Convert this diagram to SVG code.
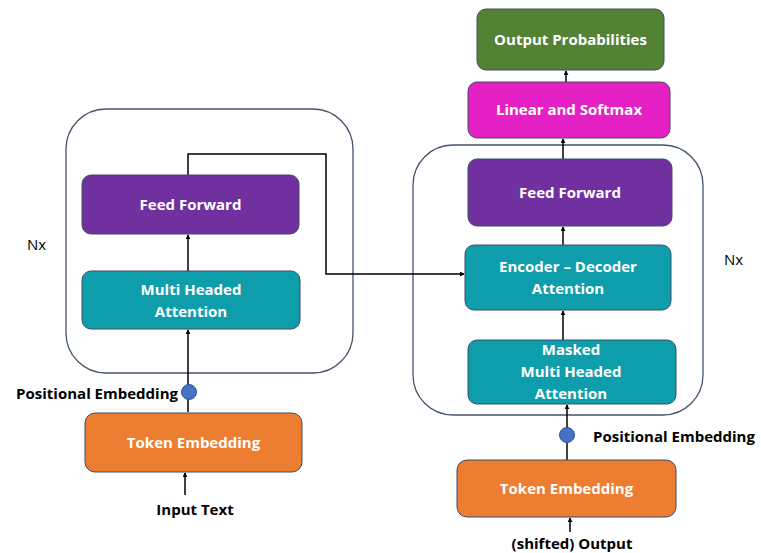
<svg xmlns="http://www.w3.org/2000/svg" width="761" height="553" viewBox="0 0 761 553">
  <defs>
    <marker id="arrow" viewBox="0 0 6 6" refX="5" refY="3" markerWidth="5" markerHeight="5" orient="auto" markerUnits="userSpaceOnUse">
      <path d="M0,0 L6,3 L0,6 Z" fill="#000"/>
    </marker>
    <style>
      .frame { fill: none; stroke: #44546a; stroke-width: 1.3; }
      .box { stroke: #3b4f68; stroke-width: 1; }
      .ff { fill: #7030a0; }
      .att { fill: #0e9eab; }
      .emb { fill: #ed7d31; }
      .lin { fill: #e520c4; }
      .out { fill: #548235; }
      .pe { fill: #4472c4; stroke: #2f528f; stroke-width: 1; }
      .in { font-family: "Open Sans", "Liberation Sans", sans-serif; font-weight: 700; font-size: 15px; fill: #fff; text-anchor: middle; }
      .lbl { font-family: "Open Sans", "Liberation Sans", sans-serif; font-weight: 700; font-size: 15px; fill: #000; }
      .nx { font-family: "Open Sans", "Liberation Sans", sans-serif; font-size: 15px; fill: #000; }
      .wire { fill: none; stroke: #000; stroke-width: 1.5; }
    </style>
  </defs>
  <rect width="761" height="553" fill="#fff"/>

  <!-- encoder / decoder stack frames -->
  <rect id="encoder-stack" class="frame" x="66" y="109" width="287" height="264" rx="40"/>
  <rect id="decoder-stack" class="frame" x="413" y="145" width="290" height="270" rx="40"/>
  <text class="nx" x="27" y="250">Nx</text>
  <text class="nx" x="724" y="265">Nx</text>

  <!-- connectors -->
  <g id="connectors">
    <line class="wire" x1="185" y1="495" x2="185" y2="473" marker-end="url(#arrow)"/>
    <line class="wire" x1="188" y1="412" x2="188" y2="330" marker-end="url(#arrow)"/>
    <line class="wire" x1="188" y1="271" x2="188" y2="235" marker-end="url(#arrow)"/>
    <polyline class="wire" points="188,175 188,154 326,154 326,274 464,274" marker-end="url(#arrow)"/>
    <line class="wire" x1="570" y1="532" x2="570" y2="518" marker-end="url(#arrow)"/>
    <line class="wire" x1="567" y1="460" x2="567" y2="405" marker-end="url(#arrow)"/>
    <line class="wire" x1="563" y1="340" x2="563" y2="311" marker-end="url(#arrow)"/>
    <line class="wire" x1="563" y1="245" x2="563" y2="227" marker-end="url(#arrow)"/>
    <line class="wire" x1="563" y1="159" x2="563" y2="139" marker-end="url(#arrow)"/>
    <line class="wire" x1="566" y1="82" x2="566" y2="71" marker-end="url(#arrow)"/>
  </g>

  <!-- encoder side -->
  <g id="enc-feed-forward">
    <rect class="box ff" x="82" y="175" width="217" height="59" rx="9"/>
    <text class="in" x="190.5" y="210">Feed Forward</text>
  </g>
  <g id="enc-attention">
    <rect class="box att" x="82" y="271" width="218" height="58" rx="9"/>
    <text class="in" x="191" y="295">Multi Headed</text>
    <text class="in" x="191" y="317">Attention</text>
  </g>
  <g id="enc-positional">
    <circle class="pe" cx="189" cy="392" r="7.5"/>
    <text class="lbl" x="178" y="399" text-anchor="end">Positional Embedding</text>
  </g>
  <g id="enc-token-embedding">
    <rect class="box emb" x="85" y="413" width="217" height="59" rx="10"/>
    <text class="in" x="193.5" y="448">Token Embedding</text>
  </g>
  <g id="enc-input">
    <text class="lbl" x="195" y="515" text-anchor="middle">Input Text</text>
  </g>

  <!-- decoder side -->
  <g id="output-probabilities">
    <rect class="box out" x="477" y="9" width="187" height="61" rx="9"/>
    <text class="in" x="570.5" y="45">Output Probabilities</text>
  </g>
  <g id="linear-softmax">
    <rect class="box lin" x="468" y="82" width="202" height="56" rx="9"/>
    <text class="in" x="569" y="115">Linear and Softmax</text>
  </g>
  <g id="dec-feed-forward">
    <rect class="box ff" x="468" y="159" width="204" height="67" rx="9"/>
    <text class="in" x="570" y="198">Feed Forward</text>
  </g>
  <g id="dec-cross-attention">
    <rect class="box att" x="465" y="245" width="206" height="65" rx="9"/>
    <text class="in" x="568" y="272">Encoder – Decoder</text>
    <text class="in" x="568" y="294">Attention</text>
  </g>
  <g id="dec-masked-attention">
    <rect class="box att" x="468" y="340" width="208" height="64" rx="9"/>
    <text class="in" x="571" y="355">Masked</text>
    <text class="in" x="571" y="377">Multi Headed</text>
    <text class="in" x="571" y="399">Attention</text>
  </g>
  <g id="dec-positional">
    <circle class="pe" cx="567" cy="435" r="7.5"/>
    <text class="lbl" x="593" y="442">Positional Embedding</text>
  </g>
  <g id="dec-token-embedding">
    <rect class="box emb" x="457" y="460" width="219" height="57" rx="10"/>
    <text class="in" x="566.5" y="494">Token Embedding</text>
  </g>
  <g id="dec-input">
    <text class="lbl" x="572" y="549" text-anchor="middle">(shifted) Output</text>
  </g>
</svg>
